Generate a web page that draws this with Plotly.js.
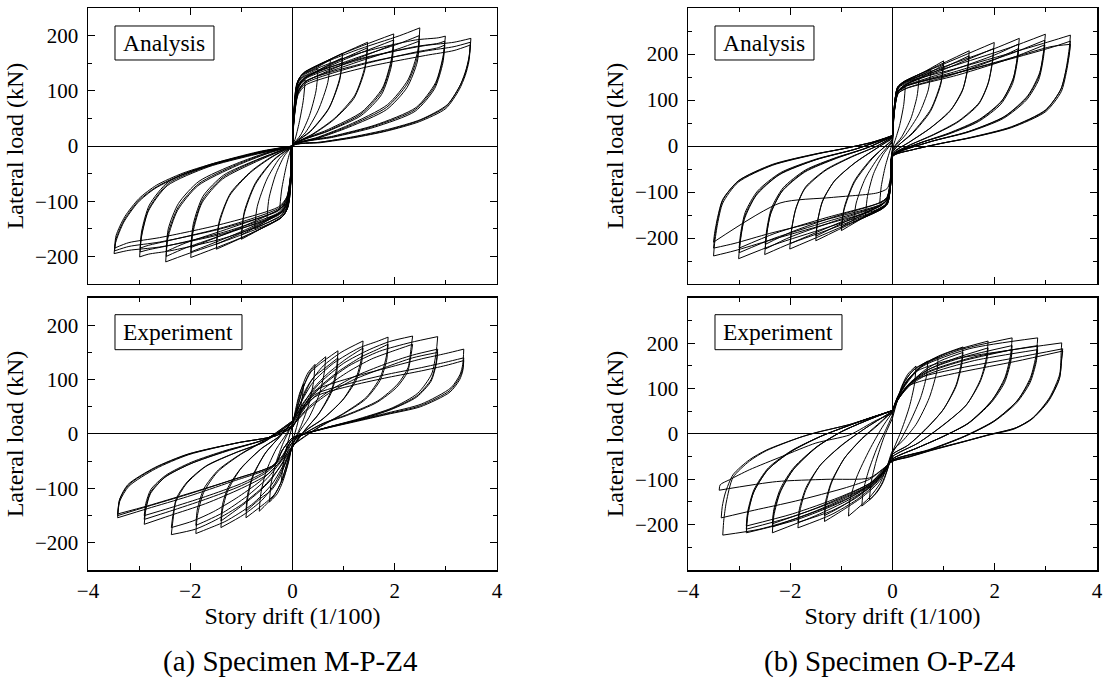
<!DOCTYPE html>
<html>
<head>
<meta charset="utf-8">
<script src="https://cdn.plot.ly/plotly-3.0.1.min.js"></script>
<style>
html,body{margin:0;padding:0;background:#fff;}
#chart{width:1105px;height:680px;}
#chart svg text{font-family:"Liberation Serif", serif !important;}
</style>
</head>
<body>
<div id="chart"></div>
<script>
// ---------- tick values ----------
const driftTicks = [-4, -2, 0, 2, 4];
const loadTicks = [-200, -100, 0, 100, 200];

// ---------- (a) M-P-Z4, Analysis : one inner array per cycle ----------
const driftMPAnalysis = [
  [0,0.02,0.06,0.12,0.25,0.21,0.13,0.05,0,-0.02,-0.06,-0.12,-0.25,-0.21,-0.13,-0.05,0],
  [0,0.02,0.06,0.13,0.3,0.5,0.46,0.33,0.16,0,-0.02,-0.06,-0.13,-0.3,-0.5,-0.46,-0.33,-0.16,0],
  [0,0.03,0.08,0.16,0.45,0.74,0.69,0.5,0.25,0,-0.03,-0.08,-0.16,-0.45,-0.74,-0.69,-0.5,-0.25,0],
  [0,0.03,0.08,0.18,0.6,0.98,0.93,0.72,0.36,0,-0.03,-0.08,-0.18,-0.6,-1.0,-0.95,-0.73,-0.37,0],
  [0,0.03,0.09,0.2,0.6,0.98,0.92,0.7,0.35,0,-0.03,-0.09,-0.2,-0.6,-1.0,-0.94,-0.72,-0.36,0],
  [0,0.03,0.1,0.2,0.8,1.47,1.42,1.22,0.82,0.4,0,-0.03,-0.1,-0.2,-0.8,-1.49,-1.44,-1.23,-0.82,-0.4,0],
  [0,0.03,0.1,0.22,0.8,1.47,1.41,1.2,0.8,0.4,0,-0.03,-0.1,-0.22,-0.8,-1.49,-1.43,-1.21,-0.8,-0.4,0],
  [0,0.03,0.1,0.22,1.0,1.98,1.94,1.76,1.36,0.7,0,-0.03,-0.1,-0.22,-1.0,-1.99,-1.95,-1.77,-1.37,-0.7,0],
  [0,0.03,0.11,0.24,1.0,1.98,1.93,1.74,1.34,0.7,0,-0.03,-0.11,-0.24,-1.0,-1.99,-1.94,-1.75,-1.35,-0.7,0],
  [0,0.03,0.11,0.24,1.0,1.98,1.93,1.74,1.34,0.7,0,-0.03,-0.11,-0.24,-1.0,-1.99,-1.94,-1.75,-1.35,-0.7,0],
  [0,0.03,0.1,0.22,1.2,2.1,2.49,2.45,2.26,1.86,1.1,0.5,0,-0.03,-0.1,-0.22,-1.2,-2.1,-2.48,-2.44,-2.25,-1.85,-1.1,-0.5,0],
  [0,0.03,0.11,0.24,1.2,2.1,2.48,2.44,2.24,1.84,1.1,0.5,0,-0.03,-0.11,-0.24,-1.2,-2.1,-2.47,-2.43,-2.23,-1.83,-1.1,-0.5,0],
  [0,0.03,0.11,0.24,1.2,2.1,2.48,2.44,2.24,1.84,1.1,0.5,0,-0.03,-0.11,-0.24,-1.2,-2.1,-2.47,-2.43,-2.23,-1.83,-1.1,-0.5,0],
  [0,0.03,0.1,0.25,1.3,2.4,2.85,2.99,2.95,2.8,2.42,1.62,0.8,0,-0.03,-0.1,-0.25,-1.3,-2.4,-2.82,-2.99,-2.96,-2.82,-2.45,-1.65,-0.8,0],
  [0,0.03,0.11,0.26,1.3,2.4,2.85,2.98,2.94,2.78,2.4,1.6,0.8,0,-0.03,-0.11,-0.26,-1.3,-2.4,-2.82,-2.98,-2.95,-2.8,-2.43,-1.63,-0.8,0],
  [0,0.03,0.11,0.26,1.3,2.4,2.85,2.98,2.94,2.78,2.4,1.6,0.8,0,-0.03,-0.11,-0.26,-1.3,-2.4,-2.82,-2.98,-2.95,-2.8,-2.43,-1.63,-0.8,0],
  [0,0.03,0.1,0.25,1.4,2.6,3.16,3.49,3.46,3.4,3.29,3.03,2.51,1.86,1.2,0.56,0,-0.03,-0.1,-0.25,-1.4,-2.6,-3.2,-3.49,-3.46,-3.3,-3.02,-2.69,-2.17,-1.39,-0.6,0],
  [0,0.03,0.11,0.27,1.4,2.6,3.16,3.48,3.45,3.38,3.26,3.0,2.48,1.84,1.2,0.55,0,-0.03,-0.11,-0.27,-1.4,-2.6,-3.2,-3.48,-3.45,-3.28,-3.0,-2.66,-2.14,-1.37,-0.6,0],
  [0,0.03,0.11,0.27,1.4,2.6,3.16,3.48,3.45,3.38,3.26,3.0,2.48,1.84,1.2,0.55,0,-0.03,-0.11,-0.27,-1.4,-2.6,-3.2,-3.48,-3.45,-3.28,-3.0,-2.66,-2.14,-1.37,-0.6,0]
];
const loadMPAnalysis = [
  [0,50,92,110,120,82,42,12,0,-48,-88,-105,-113,-78,-40,-11,0],
  [0,52,100,120,130,140,100,55,20,0,-50,-96,-116,-124,-131,-95,-52,-18,0],
  [0,62,110,126,141,156,115,64,24,0,-60,-106,-122,-137,-150,-110,-60,-22,0],
  [0,62,112,128,150,168,125,70,28,0,-60,-108,-126,-149,-169,-125,-70,-26,0],
  [0,55,102,120,142,160,118,66,26,0,-54,-100,-118,-141,-161,-118,-66,-24,0],
  [0,62,116,131,160,188,145,92,50,22,0,-60,-113,-128,-158,-187,-143,-90,-48,-20,0],
  [0,56,106,122,150,178,136,86,47,21,0,-55,-104,-120,-149,-178,-135,-85,-45,-19,0],
  [0,62,116,132,168,203,160,105,62,30,0,-60,-113,-130,-166,-202,-158,-103,-60,-28,0],
  [0,55,106,122,156,192,150,98,58,28,0,-54,-104,-120,-155,-192,-148,-96,-56,-26,0],
  [0,50,98,115,148,184,143,93,55,27,0,-49,-96,-113,-147,-184,-141,-91,-53,-25,0],
  [0,62,116,133,172,200,214,172,120,75,38,16,0,-60,-113,-130,-168,-197,-210,-168,-117,-72,-36,-14,0],
  [0,55,106,123,158,186,200,160,112,70,36,15,0,-54,-104,-121,-156,-185,-200,-158,-110,-68,-34,-13,0],
  [0,50,98,116,150,177,190,152,106,66,34,14,0,-49,-96,-114,-148,-176,-191,-150,-104,-64,-32,-12,0],
  [0,58,112,130,168,192,196,199,165,115,70,38,18,0,-56,-108,-128,-166,-190,-196,-201,-168,-118,-72,-38,-17,0],
  [0,52,104,122,156,180,186,190,156,108,66,36,17,0,-51,-101,-120,-155,-180,-188,-192,-160,-112,-68,-36,-16,0],
  [0,47,96,114,146,170,178,183,150,104,63,34,16,0,-46,-93,-112,-146,-171,-180,-185,-154,-107,-65,-34,-15,0],
  [0,55,108,126,160,182,188,195,165,140,112,75,48,30,17,7,0,-55,-106,-124,-160,-183,-189,-195,-175,-138,-102,-77,-53,-29,-10,0],
  [0,50,100,118,150,172,180,188,158,132,106,71,46,28,16,7,0,-50,-99,-117,-150,-174,-182,-190,-168,-132,-98,-74,-51,-28,-10,0],
  [0,46,93,111,142,164,173,183,153,128,102,68,44,27,15,6,0,-46,-92,-110,-142,-166,-175,-185,-162,-128,-95,-71,-49,-27,-9,0]
];

// ---------- (b) O-P-Z4, Analysis ----------
const driftOPAnalysis = [
  [0,0.02,0.06,0.12,0.25,0.22,0.14,0.05,0,-0.02,-0.06,-0.12,-0.25,-0.22,-0.14,-0.05,0],
  [0,0.02,0.06,0.13,0.3,0.52,0.48,0.36,0.18,0,-0.02,-0.06,-0.13,-0.3,-0.53,-0.49,-0.37,-0.18,0],
  [0,0.03,0.08,0.15,0.45,0.75,0.7,0.52,0.26,0,-0.03,-0.08,-0.15,-0.45,-0.76,-0.71,-0.53,-0.27,0],
  [0,0.03,0.08,0.16,0.6,1.0,0.95,0.75,0.4,0,-0.03,-0.08,-0.16,-0.6,-1.0,-0.95,-0.75,-0.4,0],
  [0,0.03,0.09,0.18,0.6,1.0,0.94,0.74,0.4,0,-0.03,-0.09,-0.18,-0.6,-1.0,-0.94,-0.74,-0.4,0],
  [0,0.03,0.1,0.2,0.8,1.5,1.47,1.38,1.15,0.75,0.35,0,-0.03,-0.1,-0.2,-0.8,-1.5,-1.47,-1.38,-1.15,-0.75,-0.35,0],
  [0,0.03,0.11,0.22,0.8,1.5,1.46,1.36,1.12,0.73,0.34,0,-0.03,-0.11,-0.22,-0.8,-1.5,-1.46,-1.36,-1.12,-0.73,-0.34,0],
  [0,0.03,0.1,0.22,1.0,1.99,1.96,1.88,1.7,1.3,0.8,0.3,0,-0.03,-0.1,-0.22,-1.0,-2.01,-1.98,-1.9,-1.72,-1.32,-0.8,-0.3,0],
  [0,0.03,0.11,0.24,1.0,1.98,1.95,1.86,1.68,1.28,0.8,0.3,0,-0.03,-0.11,-0.24,-1.0,-2.0,-1.97,-1.88,-1.7,-1.3,-0.8,-0.3,0],
  [0,0.03,0.1,0.24,1.2,2.0,2.48,2.45,2.37,2.15,1.7,1.1,0.5,0,-0.03,-0.1,-0.24,-1.2,-2.0,-2.5,-2.47,-2.39,-2.17,-1.72,-1.1,-0.5,0],
  [0,0.03,0.11,0.26,1.2,2.0,2.47,2.44,2.35,2.12,1.68,1.1,0.5,0,-0.03,-0.11,-0.26,-1.2,-2.0,-2.49,-2.46,-2.37,-2.14,-1.7,-1.1,-0.5,0],
  [0,0.03,0.11,0.26,1.2,2.0,2.47,2.44,2.35,2.12,1.68,1.1,0.5,0,-0.03,-0.11,-0.26,-1.2,-2.0,-2.49,-2.46,-2.37,-2.14,-1.7,-1.1,-0.5,0],
  [0,0.03,0.1,0.25,1.3,2.3,2.99,2.96,2.88,2.65,2.2,1.5,0.7,0,-0.03,-0.1,-0.25,-1.3,-2.3,-3.01,-2.98,-2.9,-2.67,-2.22,-1.5,-0.7,0],
  [0,0.03,0.11,0.27,1.3,2.3,2.98,2.95,2.86,2.62,2.17,1.48,0.7,0,-0.03,-0.11,-0.27,-1.3,-2.3,-3.0,-2.97,-2.88,-2.64,-2.19,-1.48,-0.7,0],
  [0,0.03,0.11,0.27,1.3,2.3,2.98,2.95,2.86,2.62,2.17,1.48,0.7,0,-0.03,-0.11,-0.27,-1.3,-2.3,-3.0,-2.97,-2.88,-2.64,-2.19,-1.48,-0.7,0],
  [0,0.03,0.1,0.25,1.3,2.4,3.1,3.48,3.46,3.4,3.3,3.0,2.33,1.5,0.97,0.4,0,-0.03,-0.1,-0.25,-1.3,-2.4,-3.1,-3.5,-3.48,-3.42,-3.32,-3.02,-2.35,-1.5,-0.97,-0.4,0],
  [0,0.03,0.1,0.25,1.3,2.4,3.1,3.48,3.46,3.4,3.3,3.0,2.33,1.5,0.97,0.4,0,-0.03,-0.1,-0.25,-1.3,-2.4,-3.1,-3.5,-3.48,-3.42,-3.32,-3.02,-2.35,-1.5,-0.97,-0.4,0],
  [0,0.03,0.11,0.27,1.3,2.4,3.1,3.48,3.46,3.39,3.28,2.98,2.3,1.48,0.96,0.4,0,-0.03,-0.1,-0.3,-1.2,-2.2,-3.5,-3.48,-3.42,-3.32,-3.0,-2.32,-1.48,-0.96,-0.4,0]
];
const loadOPAnalysis = [
  [5,55,100,118,128,90,45,12,-5,-55,-98,-115,-125,-88,-44,-10,5],
  [8,60,108,128,138,148,108,60,20,-8,-60,-106,-126,-138,-152,-110,-60,-18,8],
  [10,68,115,132,148,165,122,70,25,-10,-66,-112,-130,-148,-166,-124,-70,-24,10],
  [14,72,120,135,160,185,140,80,30,-14,-70,-118,-133,-158,-184,-140,-80,-28,14],
  [12,66,112,128,152,176,132,75,28,-12,-64,-110,-126,-150,-176,-132,-75,-26,12],
  [18,75,125,138,170,207,170,125,80,40,10,-18,-74,-123,-136,-168,-206,-168,-124,-78,-38,-8,18],
  [16,70,118,131,160,196,160,118,75,38,9,-16,-69,-116,-129,-158,-196,-160,-117,-74,-36,-7,16],
  [20,78,128,140,178,225,190,140,95,55,25,0,-20,-76,-126,-138,-176,-224,-188,-140,-94,-54,-24,0,20],
  [19,72,120,132,166,212,178,132,90,52,24,0,-19,-70,-118,-130,-165,-212,-178,-132,-89,-51,-23,0,19],
  [22,80,128,140,180,212,234,200,150,100,58,28,5,-22,-78,-126,-138,-180,-212,-236,-200,-150,-100,-57,-27,-4,22],
  [21,74,120,131,166,198,222,190,142,95,55,27,5,-21,-72,-118,-130,-166,-198,-224,-190,-142,-95,-54,-26,-4,21],
  [20,70,114,125,156,188,212,182,136,91,53,26,5,-20,-68,-112,-124,-156,-188,-214,-182,-136,-91,-52,-25,-4,20],
  [23,80,128,140,178,214,243,210,160,110,65,32,8,-23,-78,-126,-138,-178,-214,-245,-210,-160,-108,-63,-30,-6,23],
  [22,74,120,131,164,200,230,198,150,104,62,31,8,-22,-72,-118,-130,-165,-200,-232,-198,-150,-102,-60,-29,-6,22],
  [21,70,114,125,155,190,220,190,144,100,60,30,8,-21,-68,-112,-124,-156,-190,-222,-190,-144,-98,-58,-28,-6,21],
  [23,80,126,138,170,205,228,241,215,170,125,79,42,18,6,-8,-23,-78,-124,-136,-170,-205,-228,-239,-212,-168,-124,-79,-42,-18,-6,8,23],
  [22,74,118,130,160,194,216,221,200,160,118,75,40,17,6,-8,-22,-72,-116,-128,-160,-190,-212,-222,-200,-160,-118,-76,-40,-17,-6,8,22],
  [22,74,118,130,160,192,214,228,204,162,120,76,40,17,6,-8,-22,-62,-92,-102,-112,-124,-209,-190,-155,-116,-75,-40,-17,-6,8,22]
];

// ---------- (a) M-P-Z4, Experiment ----------
const driftMPExperiment = [
  [0,0.06,0.14,0.22,0.18,0.1,0,-0.06,-0.14,-0.22,-0.18,-0.1,0],
  [0,0.08,0.18,0.3,0.44,0.41,0.32,0.18,0,-0.08,-0.18,-0.3,-0.45,-0.42,-0.32,-0.18,0],
  [0,0.1,0.22,0.35,0.5,0.65,0.62,0.52,0.32,0.12,0,-0.1,-0.22,-0.35,-0.5,-0.65,-0.62,-0.52,-0.32,-0.12,0],
  [0,0.1,0.22,0.36,0.55,0.89,0.86,0.76,0.52,0.25,0,-0.1,-0.22,-0.36,-0.55,-0.91,-0.88,-0.78,-0.54,-0.26,0],
  [0,0.12,0.26,0.42,0.62,0.89,0.86,0.75,0.5,0.24,0,-0.12,-0.26,-0.42,-0.62,-0.91,-0.88,-0.77,-0.52,-0.25,0],
  [0,0.15,0.35,0.6,0.95,1.38,1.35,1.25,1.0,0.6,0.25,0,-0.15,-0.35,-0.6,-0.95,-1.4,-1.37,-1.27,-1.02,-0.62,-0.26,0],
  [0,0.18,0.42,0.7,1.05,1.38,1.35,1.24,0.98,0.58,0.24,0,-0.18,-0.42,-0.7,-1.05,-1.4,-1.37,-1.26,-1.0,-0.6,-0.25,0],
  [0,0.15,0.4,0.8,1.3,1.65,1.87,1.84,1.72,1.45,1.0,0.5,0,-0.15,-0.4,-0.8,-1.3,-1.65,-1.89,-1.86,-1.74,-1.47,-1.02,-0.5,0],
  [0,0.2,0.5,0.9,1.35,1.65,1.87,1.84,1.71,1.43,0.98,0.5,0,-0.2,-0.5,-0.9,-1.35,-1.65,-1.89,-1.86,-1.73,-1.45,-1.0,-0.5,0],
  [0,0.2,0.55,1.0,1.5,1.9,2.35,2.32,2.26,2.06,1.67,1.08,0.56,0,-0.2,-0.55,-1.0,-1.5,-1.9,-2.37,-2.34,-2.28,-2.08,-1.7,-1.1,-0.56,0],
  [0,0.25,0.65,1.1,1.55,1.95,2.35,2.32,2.25,2.04,1.65,1.06,0.55,0,-0.25,-0.65,-1.1,-1.55,-1.95,-2.37,-2.34,-2.27,-2.06,-1.68,-1.08,-0.55,0],
  [0,0.25,0.6,1.1,1.7,2.3,2.84,2.81,2.72,2.45,1.95,1.3,0.6,0,-0.2,-0.5,-1.0,-1.7,-2.4,-2.9,-2.87,-2.78,-2.5,-2.0,-1.3,-0.6,0],
  [0,0.3,0.7,1.2,1.8,2.35,2.84,2.81,2.71,2.43,1.93,1.3,0.6,0,-0.2,-0.5,-1.0,-1.7,-2.4,-2.9,-2.87,-2.77,-2.48,-1.98,-1.3,-0.6,0],
  [0,0.3,0.7,1.2,1.8,2.35,2.84,2.81,2.71,2.43,1.93,1.3,0.6,0,-0.2,-0.5,-1.0,-1.7,-2.4,-2.9,-2.87,-2.77,-2.48,-1.98,-1.3,-0.6,0],
  [0,0.17,0.43,1.2,1.87,2.52,3.0,3.35,3.33,3.28,3.1,2.52,1.87,1.21,0.56,0,-0.2,-0.35,-1.2,-2.05,-2.83,-3.42,-3.38,-3.22,-2.7,-2.05,-1.07,-0.35,0],
  [0,0.17,0.43,1.2,1.87,2.52,3.0,3.35,3.33,3.27,3.08,2.5,1.85,1.2,0.55,0,-0.2,-0.35,-1.2,-2.05,-2.83,-3.42,-3.38,-3.2,-2.68,-2.03,-1.06,-0.35,0],
  [0,0.17,0.43,1.2,1.87,2.52,3.0,3.35,3.33,3.27,3.08,2.5,1.85,1.2,0.55,0,-0.2,-0.35,-1.2,-2.05,-2.83,-3.42,-3.38,-3.2,-2.68,-2.03,-1.06,-0.35,0]
];
const loadMPExperiment = [
  [15,45,75,92,60,20,-15,-45,-72,-88,-55,-18,15],
  [18,48,85,112,128,95,55,18,-20,-50,-85,-110,-125,-92,-52,-16,18],
  [20,50,88,115,130,142,112,72,30,2,-22,-52,-88,-112,-128,-142,-110,-70,-28,0,20],
  [22,50,88,114,130,153,120,80,38,8,-24,-52,-88,-112,-128,-154,-120,-80,-36,-6,22],
  [22,48,82,105,120,140,110,74,35,7,-24,-50,-82,-104,-118,-142,-112,-75,-34,-5,22],
  [24,55,95,125,150,171,140,105,65,28,5,-24,-55,-92,-122,-148,-172,-140,-105,-65,-28,-4,24],
  [24,50,85,112,138,158,130,98,62,27,5,-24,-50,-84,-110,-136,-160,-130,-98,-62,-26,-4,24],
  [24,55,95,130,158,170,178,145,105,68,38,12,-22,-52,-92,-130,-160,-174,-183,-150,-108,-70,-38,-10,24],
  [24,50,84,115,142,155,165,135,98,64,36,11,-22,-48,-82,-115,-144,-158,-168,-138,-100,-66,-36,-9,24],
  [22,56,95,130,155,170,180,159,122,92,61,36,18,-15,-55,-95,-130,-158,-175,-185,-160,-124,-92,-60,-34,-15,22],
  [22,52,86,115,138,152,165,146,114,86,58,34,17,-15,-52,-88,-118,-143,-160,-172,-150,-118,-88,-58,-33,-14,22],
  [18,55,90,125,152,168,179,150,110,75,48,28,10,-10,-45,-75,-100,-128,-150,-166,-140,-110,-80,-55,-32,-12,15],
  [15,48,78,105,128,145,156,132,100,70,46,27,10,-10,-42,-70,-95,-120,-142,-157,-134,-106,-78,-54,-31,-12,15],
  [15,45,74,100,122,140,150,128,97,68,45,26,10,-10,-40,-67,-91,-115,-136,-150,-128,-102,-76,-52,-30,-12,15],
  [12,42,79,105,122,138,148,156,128,110,85,55,39,24,9,-7,-30,-56,-85,-111,-133,-150,-120,-93,-62,-37,-16,-4,12],
  [12,40,72,95,110,122,132,140,120,104,80,52,37,23,8,-7,-30,-58,-88,-115,-137,-154,-124,-96,-64,-38,-16,-4,12],
  [12,38,68,90,104,116,126,135,116,100,77,50,36,22,8,-7,-30,-56,-85,-110,-132,-147,-120,-93,-62,-37,-16,-4,12]
];

// ---------- (b) O-P-Z4, Experiment ----------
const driftOPExperiment = [
  [0,0.08,0.18,0.3,0.46,0.43,0.33,0.18,0,-0.08,-0.18,-0.3,-0.45,-0.42,-0.32,-0.17,0],
  [0,0.1,0.22,0.38,0.69,0.66,0.55,0.35,0.15,0,-0.1,-0.22,-0.38,-0.6,-0.57,-0.47,-0.3,-0.12,0],
  [0,0.1,0.25,0.45,0.89,0.87,0.72,0.46,0.2,0,-0.1,-0.25,-0.45,-0.86,-0.84,-0.7,-0.45,-0.2,0],
  [0,0.1,0.3,0.55,0.9,1.38,1.35,1.25,1.0,0.65,0.3,0,-0.1,-0.3,-0.6,-1.0,-1.33,-1.31,-1.2,-0.95,-0.6,-0.3,0],
  [0,0.12,0.35,0.62,0.95,1.38,1.35,1.24,0.98,0.63,0.3,0,-0.12,-0.35,-0.65,-1.0,-1.33,-1.31,-1.19,-0.93,-0.58,-0.28,0],
  [0,0.1,0.3,0.6,1.1,1.87,1.84,1.72,1.45,1.0,0.5,0,-0.12,-0.35,-0.7,-1.2,-1.85,-1.82,-1.7,-1.42,-1.0,-0.5,0],
  [0,0.12,0.35,0.7,1.2,1.87,1.84,1.71,1.43,0.98,0.5,0,-0.12,-0.35,-0.7,-1.2,-1.85,-1.82,-1.69,-1.4,-0.98,-0.5,0],
  [0,0.1,0.3,0.6,1.3,2.34,2.31,2.2,1.95,1.5,1.0,0.5,0,-0.15,-0.4,-0.85,-1.5,-2.35,-2.32,-2.2,-1.95,-1.5,-1.0,-0.5,0],
  [0,0.12,0.35,0.7,1.4,2.34,2.31,2.19,1.93,1.48,1.0,0.5,0,-0.15,-0.4,-0.9,-1.55,-2.35,-2.32,-2.19,-1.93,-1.48,-1.0,-0.5,0],
  [0,0.12,0.35,0.7,1.4,2.34,2.31,2.19,1.93,1.48,1.0,0.5,0,-0.15,-0.4,-0.9,-1.55,-2.35,-2.32,-2.19,-1.93,-1.48,-1.0,-0.5,0],
  [0,0.1,0.3,0.6,1.5,2.84,2.81,2.7,2.45,2.0,1.4,0.7,0,-0.18,-0.45,-1.0,-1.9,-2.86,-2.83,-2.72,-2.45,-2.0,-1.4,-0.7,0],
  [0,0.12,0.35,0.7,1.6,2.84,2.81,2.69,2.43,1.98,1.4,0.7,0,-0.18,-0.45,-1.05,-1.95,-2.86,-2.83,-2.71,-2.43,-1.98,-1.4,-0.7,0],
  [0,0.12,0.35,0.7,1.6,2.84,2.81,2.69,2.43,1.98,1.4,0.7,0,-0.18,-0.45,-1.05,-1.95,-2.86,-2.83,-2.71,-2.43,-1.98,-1.4,-0.7,0],
  [0,0.1,0.3,0.5,1.2,2.3,3.31,3.3,3.27,3.07,2.75,2.42,1.9,1.44,0.79,0.33,0,-0.19,-0.45,-0.84,-1.82,-2.6,-3.32,-3.3,-3.25,-3.12,-2.8,-2.47,-1.82,-1.49,-0.84,-0.32,0],
  [0,0.1,0.3,0.55,1.3,2.4,3.33,3.31,3.27,3.06,2.73,2.4,1.88,1.42,0.78,0.33,0,-0.19,-0.45,-0.9,-1.9,-2.7,-3.35,-3.33,-3.27,-3.12,-2.8,-2.46,-1.8,-1.47,-0.83,-0.32,0],
  [0,0.1,0.3,0.6,1.4,2.4,3.33,3.31,3.26,3.05,2.72,2.38,1.86,1.4,0.77,0.32,0,-0.2,-0.45,-1.3,-2.27,-3.39,-3.37,-3.19,-2.8,-2.15,-1.5,-0.84,-0.32,0]
];
const loadOPExperiment = [
  [35,68,105,132,150,110,60,10,-40,-72,-105,-128,-145,-108,-60,-8,35],
  [42,75,112,138,161,125,80,28,-15,-42,-78,-112,-138,-159,-125,-82,-30,12,42],
  [48,80,118,145,170,140,80,21,-15,-37,-70,-110,-140,-181,-150,-95,-35,15,48],
  [50,80,118,150,172,192,160,110,55,10,-25,-45,-75,-110,-140,-170,-193,-160,-110,-55,-10,20,50],
  [50,78,112,140,162,180,150,104,52,9,-25,-45,-73,-106,-134,-160,-180,-150,-104,-52,-9,20,50],
  [50,80,118,152,180,205,170,120,65,20,-20,-50,-78,-112,-145,-178,-207,-175,-125,-70,-25,15,50],
  [50,78,112,142,166,190,160,114,62,19,-20,-50,-76,-108,-140,-170,-195,-165,-118,-67,-24,15,50],
  [52,82,120,152,185,212,175,125,75,25,-5,-30,-55,-82,-115,-145,-180,-218,-180,-130,-80,-30,5,30,52],
  [52,80,114,142,170,195,165,118,72,24,-5,-30,-55,-80,-110,-140,-172,-205,-172,-125,-77,-29,5,30,52],
  [52,78,110,136,162,186,158,113,69,23,-5,-30,-55,-78,-106,-135,-166,-198,-166,-120,-74,-28,5,30,52],
  [52,82,120,150,188,212,175,125,75,30,-5,-35,-58,-85,-115,-150,-190,-218,-180,-130,-80,-40,-5,25,52],
  [52,80,112,138,170,195,165,118,72,28,-6,-36,-58,-84,-112,-145,-182,-210,-175,-127,-78,-38,-5,25,52],
  [52,78,108,132,162,186,158,113,69,27,-6,-36,-58,-82,-109,-140,-176,-203,-170,-123,-75,-37,-5,25,52],
  [51,80,115,140,165,185,201,183,132,80,36,14,-1,-15,-34,-49,-60,-80,-111,-140,-184,-210,-223,-190,-150,-96,-60,-37,-8,3,21,40,51],
  [51,78,108,125,145,168,188,170,125,76,34,13,-2,-16,-35,-50,-60,-78,-100,-118,-148,-168,-185,-160,-130,-90,-57,-35,-7,4,21,40,51],
  [51,75,105,118,138,160,183,165,120,72,32,11,-3,-17,-36,-51,-60,-78,-97,-100,-105,-124,-112,-101,-79,-49,-20,-2,30,45]
];

// ---------- build traces: each cycle split into branches at drift reversals ----------
function branchPath(driftLoops, loadLoops) {
  const X = [], Y = [];
  driftLoops.forEach((xs, k) => {
    const ys = loadLoops[k];
    let seg = [[xs[0], ys[0]]];
    const flush = () => { seg.forEach(p => { X.push(p[0]); Y.push(p[1]); }); X.push(null); Y.push(null); };
    for (let i = 1; i < xs.length; i++) {
      seg.push([xs[i], ys[i]]);
      if (i < xs.length - 1) {
        const a = xs[i] - xs[i - 1], b = xs[i + 1] - xs[i];
        if (a * b < 0) { flush(); seg = [[xs[i], ys[i]]]; }
      }
    }
    flush();
  });
  return { X, Y };
}

const panels = [
  { xa: 'x',  ya: 'y',  d: driftMPAnalysis,   f: loadMPAnalysis },
  { xa: 'x2', ya: 'y2', d: driftOPAnalysis,   f: loadOPAnalysis },
  { xa: 'x3', ya: 'y3', d: driftMPExperiment, f: loadMPExperiment },
  { xa: 'x4', ya: 'y4', d: driftOPExperiment, f: loadOPExperiment }
];
const traces = panels.map(p => {
  const path = branchPath(p.d, p.f);
  return {
    type: 'scatter', mode: 'lines', x: path.X, y: path.Y,
    xaxis: p.xa, yaxis: p.ya, connectgaps: false, hoverinfo: 'skip',
    line: { color: '#000', width: 1, shape: 'spline', smoothing: 0.7 },
    showlegend: false
  };
});

// ---------- layout ----------
const FONT = '"Liberation Serif", serif';
const leftDom = [0, 0.40535], rightDom = [0.59465, 1.0];
const topDom = [0.5089, 1.0], botDom = [0, 0.48399];

function xAxis(dom, anchor, labels) {
  const ax = {
    domain: dom, anchor: anchor, range: [-4, 4], tickmode: 'array', tickvals: driftTicks,
    showticklabels: labels, ticks: 'inside', ticklen: 7, tickwidth: 1, tickcolor: '#000',
    showline: true, linewidth: 1.5, linecolor: '#000', mirror: 'ticks',
    zeroline: true, zerolinecolor: '#000', zerolinewidth: 1, showgrid: false,
    tickfont: { size: 21, family: FONT }, ticklabelstandoff: 1,
    minor: { tickmode: 'linear', tick0: 0, dtick: 1, ticks: 'inside', ticklen: 4, tickwidth: 1, tickcolor: '#000', showgrid: false },
    automargin: false, fixedrange: true
  };
  if (labels) ax.title = { text: 'Story drift (1/100)', font: { size: 24, family: FONT }, standoff: 4 };
  return ax;
}
function yAxis(dom, anchor, lim) {
  return {
    domain: dom, anchor: anchor, range: [-lim, lim], tickmode: 'array', tickvals: loadTicks,
    ticks: 'inside', ticklen: 7, tickwidth: 1, tickcolor: '#000',
    showline: true, linewidth: 1.5, linecolor: '#000', mirror: 'ticks',
    zeroline: true, zerolinecolor: '#000', zerolinewidth: 1, showgrid: false,
    tickfont: { size: 21, family: FONT }, ticklabelstandoff: 4,
    minor: { tickmode: 'linear', tick0: 0, dtick: 50, ticks: 'inside', ticklen: 4, tickwidth: 1, tickcolor: '#000', showgrid: false },
    title: { text: 'Lateral load (kN)', font: { size: 24, family: FONT }, standoff: 4 },
    automargin: false, fixedrange: true
  };
}

const boxes = [
  { xr: 'x',  yr: 'y',  text: 'Analysis',   x1: 0.308, y0: 0.8116, y1: 0.9348 },
  { xr: 'x2', yr: 'y2', text: 'Analysis',   x1: 0.308, y0: 0.8116, y1: 0.9348 },
  { xr: 'x3', yr: 'y3', text: 'Experiment', x1: 0.3765, y0: 0.81, y1: 0.9386 },
  { xr: 'x4', yr: 'y4', text: 'Experiment', x1: 0.3765, y0: 0.81, y1: 0.9386 }
];
const shapes = boxes.map(b => ({
  type: 'rect', xref: b.xr + ' domain', yref: b.yr + ' domain',
  x0: 0.066, x1: b.x1, y0: b.y0, y1: b.y1,
  line: { color: '#000', width: 1 }, fillcolor: '#fff', layer: 'above'
}));
const annotations = boxes.map(b => ({
  xref: b.xr + ' domain', yref: b.yr + ' domain',
  x: (0.066 + b.x1) / 2, y: (b.y0 + b.y1) / 2, xanchor: 'center', yanchor: 'middle',
  text: b.text, showarrow: false, font: { size: 23.5, family: FONT }
}));
annotations.push(
  { xref: 'paper', yref: 'paper', x: 0.2002, y: -0.162, xanchor: 'center', yanchor: 'middle',
    text: '(a) Specimen M-P-Z4', showarrow: false, font: { size: 29, family: FONT } },
  { xref: 'paper', yref: 'paper', x: 0.7948, y: -0.162, xanchor: 'center', yanchor: 'middle',
    text: '(b) Specimen O-P-Z4', showarrow: false, font: { size: 29, family: FONT } }
);

const layout = {
  width: 1105, height: 680,
  margin: { l: 88, r: 8, t: 8, b: 110, pad: 0 },
  font: { family: FONT, color: '#000' },
  showlegend: false,
  xaxis:  xAxis(leftDom, 'y', false),
  yaxis:  yAxis(topDom, 'x', 250),
  xaxis2: xAxis(rightDom, 'y2', false),
  yaxis2: yAxis(topDom, 'x2', 300),
  xaxis3: xAxis(leftDom, 'y3', true),
  yaxis3: yAxis(botDom, 'x3', 250),
  xaxis4: xAxis(rightDom, 'y4', true),
  yaxis4: yAxis(botDom, 'x4', 300),
  shapes: shapes, annotations: annotations
};

Plotly.newPlot('chart', traces, layout, { staticPlot: true, displayModeBar: false });
</script>
</body>
</html>
